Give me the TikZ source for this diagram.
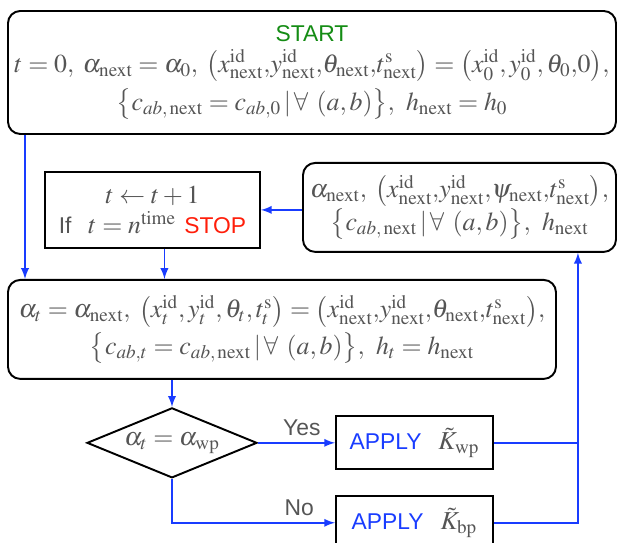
\documentclass[tikz,border=0pt]{standalone}
\usepackage{amsmath,amssymb}
\usepackage{mathptmx}
\usepackage[no-math]{fontspec}
\setsansfont{Liberation Sans}
\usepackage{xcolor}
\usetikzlibrary{shapes.geometric, arrows, positioning, calc}

\definecolor{mathgray}{RGB}{85,85,85}
\definecolor{flowblue}{RGB}{25,60,255}
\definecolor{startgreen}{RGB}{20,140,20}
\definecolor{stopred}{RGB}{255,30,10}

% sans words inside the math boxes
\newcommand{\sfword}[2]{\textcolor{#1}{\sffamily\fontsize{13}{16}\selectfont #2}}

\begin{document}
\begin{tikzpicture}[
    >=latex,
    font=\fontsize{14.7}{17.5}\selectfont,
    text=mathgray,
    % box styles
    roundbox/.style={rectangle, rounded corners=7pt, draw=black, line width=1.1pt, align=center, inner sep=1pt},
    plainbox/.style={rectangle, draw=black, line width=1.1pt, align=center, inner sep=1pt},
    decision/.style={diamond, aspect=2.4, draw=black, line width=1.1pt, inner sep=0pt, minimum width=3.4cm, minimum height=1.4cm},
    arrow/.style={flowblue, line width=1.1pt, ->},
    line/.style={flowblue, line width=1.1pt},
    answer/.style={font=\sffamily\fontsize{13}{16}\selectfont, text=mathgray}
]
    \useasboundingbox (0,0) rectangle (12.36,-10.84);

    % --- 1. NODES ---
    \node[roundbox, minimum width=12.16cm, minimum height=2.46cm, anchor=north west] (start) at (0.14,-0.2) {
        \sfword{startgreen}{START}\\[0pt]
        $t=0,\;\alpha_{\mathrm{next}}=\alpha_0{,}\ \bigl(x^{\mathrm{id}}_{\mathrm{next}}{,}y^{\mathrm{id}}_{\mathrm{next}}{,}\theta_{\mathrm{next}}{,}t^{\mathrm{s}}_{\mathrm{next}}\bigr)=\bigl(x^{\mathrm{id}}_0{,}\,y^{\mathrm{id}}_0{,}\,\theta_0{,}0\bigr),$\\[3pt]
        $\bigl\{c_{ab,\,\mathrm{next}}=c_{ab,0}\,|\,\forall\ (a,b)\bigr\},\ h_{\mathrm{next}}=h_0$
    };

    % step and stop test
    \node[plainbox, minimum width=4.3cm, minimum height=1.52cm, below=0.72cm of start.south west, anchor=north west, xshift=0.74cm] (step) {
        $t\leftarrow t+1$\\[0pt]
        \sfword{mathgray}{If}\ \ $t=n^{\mathrm{time}}$ \sfword{stopred}{STOP}
    };

    % values carried back to the next step
    \node[roundbox, minimum width=6.26cm, minimum height=1.78cm, below=0.54cm of start.south east, anchor=north east] (back) {
        $\alpha_{\mathrm{next}}{,}\ \bigl(x^{\mathrm{id}}_{\mathrm{next}}{,}y^{\mathrm{id}}_{\mathrm{next}}{,}\psi_{\mathrm{next}}{,}t^{\mathrm{s}}_{\mathrm{next}}\bigr),$\\[0pt]
        $\bigl\{c_{ab,\,\mathrm{next}}\,|\,\forall\ (a,b)\bigr\},\ h_{\mathrm{next}}$
    };

    \node[roundbox, minimum width=10.96cm, minimum height=1.98cm, below=2.88cm of start.south west, anchor=north west] (update) {
        $\alpha_t=\alpha_{\mathrm{next}}{,}\ \bigl(x^{\mathrm{id}}_t{,}\,y^{\mathrm{id}}_t{,}\,\theta_t{,}\,t^{\mathrm{s}}_t\bigr)=\bigl(x^{\mathrm{id}}_{\mathrm{next}}{,}y^{\mathrm{id}}_{\mathrm{next}}{,}\theta_{\mathrm{next}}{,}t^{\mathrm{s}}_{\mathrm{next}}\bigr),$\\[2pt]
        $\bigl\{c_{ab,t}=c_{ab,\,\mathrm{next}}\,|\,\forall\ (a,b)\bigr\},\ h_t=h_{\mathrm{next}}$
    };

    \node[decision, below=0.54cm of update.south west, anchor=north, xshift=3.3cm] (check) {$\alpha_t=\alpha_{\mathrm{wp}}$};

    \node[plainbox, minimum width=3.14cm, minimum height=1.06cm, right=1.54cm of check] (wp) {\sfword{flowblue}{APPLY}\ \ $\tilde K_{\mathrm{wp}}$};
    \node[plainbox, minimum width=3.14cm, minimum height=1.06cm, below=0.5cm of wp] (bp) {\sfword{flowblue}{APPLY}\ \ $\tilde K_{\mathrm{bp}}$};

    \coordinate (join) at ([xshift=-0.78cm]back.south east);

    % --- 2. CONNECTORS ---
    \draw[arrow] ([xshift=0.36cm]start.south west) -- ([xshift=0.36cm]update.north west);
    \draw[arrow] (back.west |- step.east) -- (step.east);
    \draw[arrow] ([xshift=0.24cm]step.south) -- ([xshift=0.24cm]step.south |- update.north);
    \draw[arrow] (update.south -| check.north) -- (check.north);

    % Yes / No branches
    \draw[arrow] (check.east) -- node[answer, above, pos=0.57] {Yes} (wp.west);
    \draw[arrow] (check.south) |- node[answer, above, pos=0.89] {No} (bp.west);

    % back up to the next values
    \draw[line] (wp.east) -- (wp.east -| join);
    \draw[arrow] (bp.east) -| (join);

\end{tikzpicture}
\end{document}
